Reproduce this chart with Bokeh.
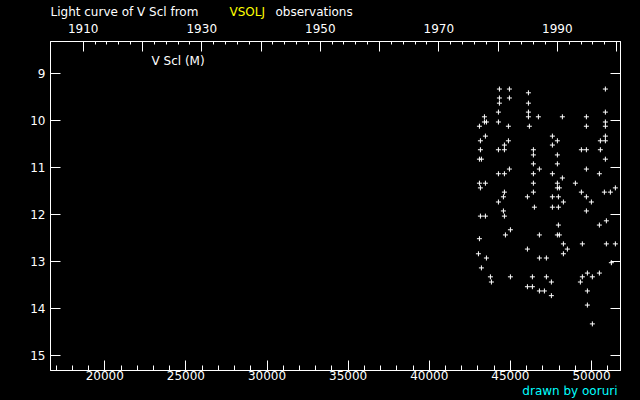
from datetime import date
from bokeh.plotting import figure
from bokeh.layouts import column
from bokeh.models import Range1d, LinearAxis, FixedTicker, SingleIntervalTicker, Label
from bokeh.embed import file_html
from bokeh.resources import INLINE

# Observations: JD - 2400000 and visual magnitude
jd = [44324, 44940, 46111, 44324, 44940, 44324, 46111, 44262, 46111, 43400, 46111, 46726,
      43400, 43523, 44262, 43092, 44878, 46172, 43461, 43153, 44878, 44632, 43153, 44262,
      44632, 46418, 46418, 43092, 43214, 46418, 44940, 46788, 44262, 44632, 46418, 43092,
      43461, 46418, 43153, 44632, 46418, 44570, 46049, 44262, 46480,
      50855, 50855, 48205, 49684, 50855, 49684, 50855, 47589, 50855, 47897, 50546, 50855,
      47589, 49376, 49684, 50546, 47897, 50855, 47897, 49684, 47589, 50485, 48205, 47897,
      49006, 47897, 48020, 51471, 49376, 50793, 51163, 47589, 47959, 49684, 48267, 49992,
      47589, 47959,
      44570, 43153, 43461, 44632, 45002, 44694, 46788, 43092, 46049, 43030, 43523, 46788,
      47219, 43214, 43769, 45002, 46357, 47219, 43831, 46049, 46357, 46788, 47096,
      49684, 50916, 47959, 50485, 47897, 48020, 48267, 49437, 50916, 51471, 48513, 48267,
      51224, 49746, 50485, 49437, 50053, 47527, 49314, 49746, 47527, 49746, 50053]
mag = [9.34, 9.34, 9.42, 9.53, 9.53, 9.64, 9.64, 9.83, 9.83, 9.93, 9.93, 9.93,
       10.04, 10.04, 10.04, 10.13, 10.13, 10.13, 10.34, 10.44, 10.44, 10.53, 10.63, 10.63,
       10.63, 10.63, 10.74, 10.83, 10.83, 10.93, 11.04, 11.04, 11.14, 11.14, 11.14, 11.34,
       11.34, 11.34, 11.44, 11.53, 11.53, 11.63, 11.63, 11.74, 11.85,
       9.34, 9.83, 9.93, 9.93, 10.04, 10.13, 10.13, 10.34, 10.34, 10.44, 10.44, 10.44,
       10.53, 10.63, 10.63, 10.63, 10.74, 10.83, 10.93, 11.04, 11.14, 11.14, 11.23, 11.34,
       11.34, 11.44, 11.44, 11.44, 11.53, 11.53, 11.53, 11.63, 11.63, 11.63, 11.74, 11.74,
       11.85, 11.85,
       11.93, 12.04, 12.04, 12.04, 12.33, 12.44, 12.44, 12.52, 12.74, 12.84, 12.93, 12.93,
       12.93, 13.14, 13.33, 13.33, 13.33, 13.33, 13.44, 13.54, 13.54, 13.63, 13.63,
       11.93, 12.14, 12.23, 12.23, 12.44, 12.44, 12.63, 12.63, 12.63, 12.63, 12.74, 12.84,
       13.03, 13.25, 13.25, 13.33, 13.33, 13.44, 13.44, 13.63, 13.73, 13.93, 14.33]

x_start, x_end = 16654, 51787
mag_faint, mag_bright = 15.32, 8.33
year_major = list(range(1910, 2001, 10))
year_labelled = [1910, 1930, 1950, 1970, 1990]
year_minor = [y for y in range(1912, 2000, 2) if y % 10]


def year_to_jd(y):
    # JD - 2400000 at Jan 1 of the year (MJD)
    return date(y, 1, 1).toordinal() - date(1858, 11, 17).toordinal()


FONT = "DejaVu Sans"
FS = "12px"


def strip(h):
    f = figure(width=640, height=h, output_backend="svg", toolbar_location=None,
               title_location=None,
               x_range=Range1d(0, 1), y_range=Range1d(0, 1),
               x_axis_location=None, y_axis_location=None,
               min_border_left=50, min_border_right=20, min_border_top=0, min_border_bottom=0,
               background_fill_color="black", border_fill_color="black",
               outline_line_color=None)
    f.grid.visible = False
    return f


def lab(fig, x, y, text, color, align="left"):
    fig.add_layout(Label(x=x, y=y, x_units="screen", y_units="screen", text=text,
                         text_color=color, text_font=FONT, text_font_size=FS,
                         text_align=align, text_baseline="alphabetic"))


# title strip (frame starts at x=50)
t = strip(19)
lab(t, 0, 8, "Light curve of V Scl from", "white")
lab(t, 179, 8, "VSOLJ", "#ffff00")
lab(t, 225, 8, "observations", "white")

p = figure(width=640, height=366, output_backend="svg", toolbar_location=None,
           x_range=Range1d(x_start, x_end), y_range=Range1d(mag_faint, mag_bright),
           background_fill_color="black", border_fill_color="black",
           outline_line_color="white", outline_line_width=1,
           min_border_left=50, min_border_right=20, min_border_top=22, min_border_bottom=15)
p.grid.visible = False

# bottom axis (JD)
xa = p.xaxis[0]
xa.ticker = SingleIntervalTicker(interval=5000, num_minor_ticks=5)
# left axis (mag)
ya = p.yaxis[0]
ya.ticker = SingleIntervalTicker(interval=1, num_minor_ticks=0)

for ax, mt, mnt in ((xa, 10, 5), (ya, 10, 0)):
    ax.axis_line_color = "white"
    ax.major_tick_line_color = "white"
    ax.minor_tick_line_color = "white"
    ax.major_tick_in = mt
    ax.major_tick_out = 0
    ax.minor_tick_in = mnt
    ax.minor_tick_out = 0
    ax.major_label_text_color = "white"
    ax.major_label_text_font = FONT
    ax.major_label_text_font_size = FS
xa.major_label_standoff = 0
ya.major_label_standoff = 5

# right axis: ticks only
ra = LinearAxis(ticker=SingleIntervalTicker(interval=1, num_minor_ticks=0),
                axis_line_color="white", major_tick_line_color="white",
                major_tick_in=10, major_tick_out=0, minor_tick_in=0, minor_tick_out=0,
                major_label_text_font_size="0px", major_label_standoff=0)
p.add_layout(ra, "right")

# top axis: years
major_jd = [year_to_jd(y) for y in year_major]
minor_jd = [year_to_jd(y) for y in year_minor]
overrides = {year_to_jd(y): (str(y) if y in year_labelled else "") for y in year_major}
ta = LinearAxis(ticker=FixedTicker(ticks=major_jd, minor_ticks=minor_jd),
                major_label_overrides=overrides,
                axis_line_color="white", major_tick_line_color="white",
                minor_tick_line_color="white",
                major_tick_in=10, major_tick_out=0, minor_tick_in=3, minor_tick_out=0,
                major_label_text_color="white", major_label_text_font=FONT,
                major_label_text_font_size=FS, major_label_standoff=9)
p.add_layout(ta, "above")

p.scatter(jd, mag, marker="cross", size=5, line_color="white", line_width=1)

lab(p, 101, 310, "V Scl (M)", "white")

# credit strip (frame starts at x=50)
c = strip(15)
lab(c, 567, 10, "drawn by ooruri", "#00ffff", "right")

layout = column(t, p, c, spacing=0)

html = file_html(layout, INLINE)
html = html.replace("</head>", "<style>html,body{background:#000;margin:0;}</style></head>", 1)
open("out.html", "w").write(html)
